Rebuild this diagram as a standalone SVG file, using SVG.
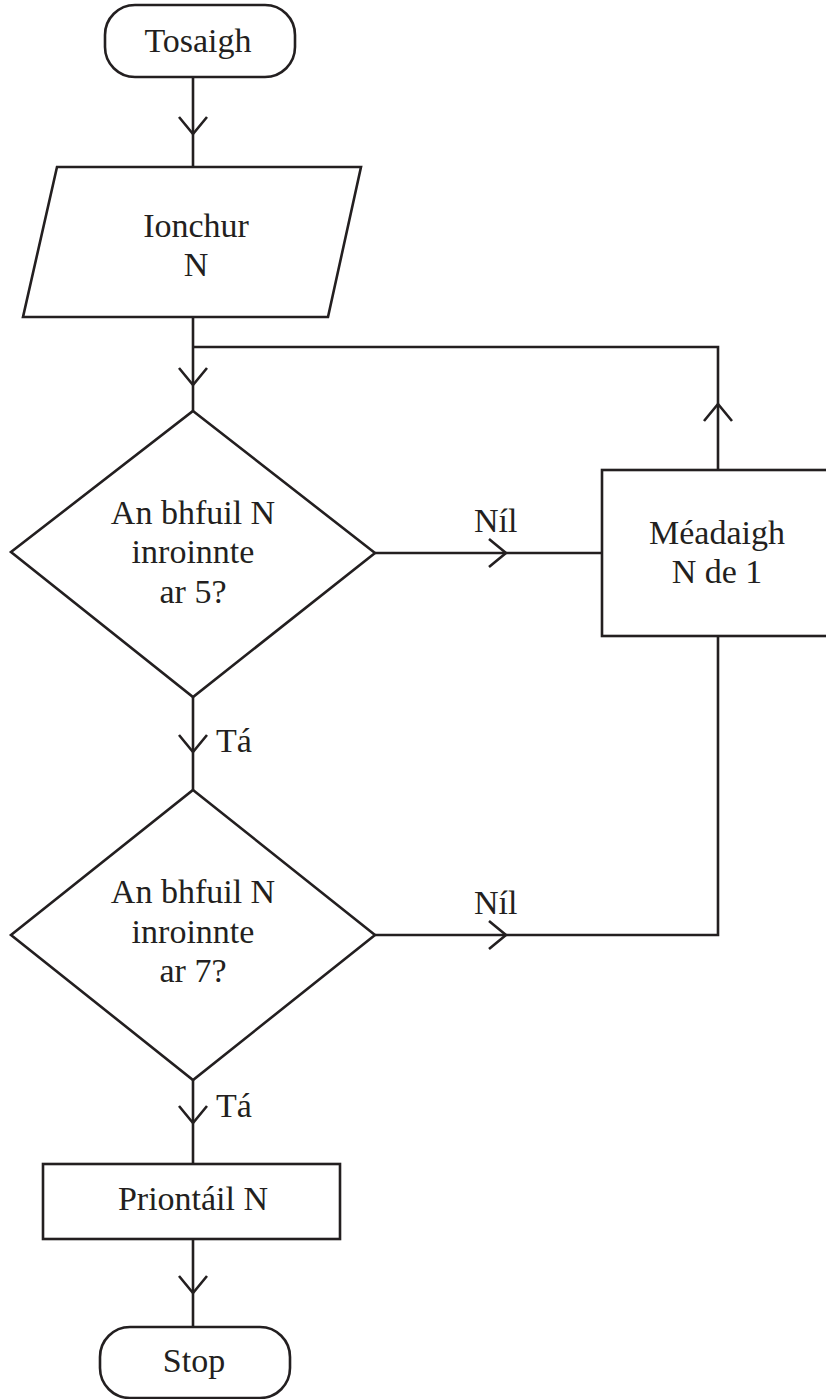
<svg xmlns="http://www.w3.org/2000/svg" xmlns:xlink="http://www.w3.org/1999/xlink" width="826" height="1399" viewBox="0 0 826 1399">
<style>
.s{fill:#fff;stroke:#231f20;stroke-width:2.6;stroke-linejoin:miter}
.c{fill:none;stroke:#231f20;stroke-width:2.6}
text{font-family:'Liberation Serif','Times New Roman',Times,serif;font-size:34px;fill:#231f20}
.t{text-anchor:middle}
</style>
<defs>
<path id="ch" d="M-14,-17 L0,0 L14,-17" fill="none" stroke="#231f20" stroke-width="2.6"/>
</defs>
<rect width="826" height="1399" fill="#fff"/>
<g id="connectors">
<path class="c" d="M193,78 V168"/>
<use xlink:href="#ch" transform="translate(193,134)"/>
<path class="c" d="M193,317 V411"/>
<use xlink:href="#ch" transform="translate(193,385)"/>
<path class="c" d="M193,347 H718 V470"/>
<use xlink:href="#ch" transform="translate(718,404) rotate(180)"/>
<path class="c" d="M375,553 H602"/>
<use xlink:href="#ch" transform="translate(506,553) rotate(-90)"/>
<text x="474" y="532">Níl</text>
<path class="c" d="M193,697 V790"/>
<use xlink:href="#ch" transform="translate(193,752)"/>
<text x="216" y="752">Tá</text>
<path class="c" d="M375,935 H718 V636"/>
<use xlink:href="#ch" transform="translate(506,935) rotate(-90)"/>
<text x="474" y="914">Níl</text>
<path class="c" d="M193,1080 V1164"/>
<use xlink:href="#ch" transform="translate(193,1123)"/>
<text x="216" y="1117">Tá</text>
<path class="c" d="M193,1239 V1327"/>
<use xlink:href="#ch" transform="translate(193,1293)"/>
</g>
<g id="start">
<rect class="s" x="105" y="5" width="190" height="72" rx="30"/>
<text class="t" x="198" y="52">Tosaigh</text>
</g>
<g id="input">
<polygon class="s" points="57,167 361,167 328,317 23,317"/>
<text class="t" x="196" y="237">Ionchur</text>
<text class="t" x="196" y="276">N</text>
</g>
<g id="dec1">
<polygon class="s" points="193,411 375,553 193,697 11,552"/>
<text class="t" x="193" y="524">An bhfuil N</text>
<text class="t" x="193" y="563">inroinnte</text>
<text class="t" x="193" y="603">ar 5?</text>
</g>
<g id="inc">
<rect class="s" x="602" y="470" width="230" height="166"/>
<text class="t" x="717" y="544">Méadaigh</text>
<text class="t" x="717" y="583">N de 1</text>
</g>
<g id="dec2">
<polygon class="s" points="193,790 375,935 193,1080 11,935"/>
<text class="t" x="193" y="903">An bhfuil N</text>
<text class="t" x="193" y="943">inroinnte</text>
<text class="t" x="193" y="982">ar 7?</text>
</g>
<g id="print">
<rect class="s" x="43" y="1164" width="297" height="75"/>
<text class="t" x="193" y="1210">Priontáil N</text>
</g>
<g id="stop">
<rect class="s" x="100" y="1327" width="190" height="71" rx="30"/>
<text class="t" x="194" y="1372">Stop</text>
</g>
</svg>
